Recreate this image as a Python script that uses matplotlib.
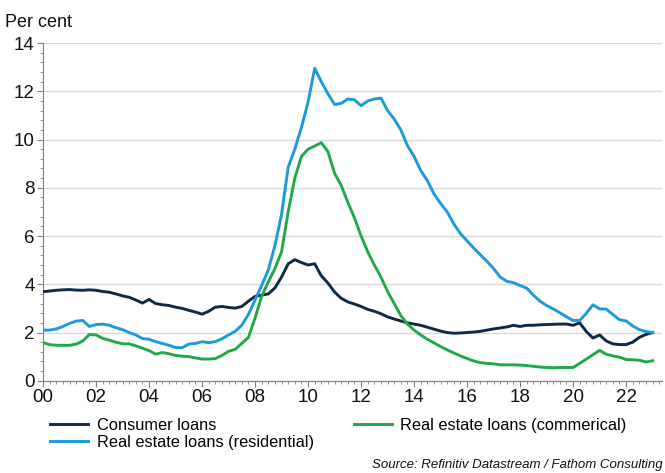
import numpy as np
import matplotlib
matplotlib.use("Agg")
import matplotlib.pyplot as plt
from matplotlib.ticker import MultipleLocator, FixedLocator

plt.rcParams['font.family'] = ['Liberation Sans', 'DejaVu Sans']

# Quarterly observations, Q1 2000 to Q1 2023
start_year = 2000
n_quarters = 93

consumer = [
    3.69, 3.72, 3.75, 3.77, 3.78, 3.76, 3.75, 3.77, 3.75, 3.70, 3.67, 3.60,
    3.52, 3.46, 3.35, 3.22, 3.37, 3.20, 3.15, 3.12, 3.05, 3.00, 2.92, 2.85,
    2.76, 2.88, 3.05, 3.08, 3.04, 3.01, 3.08, 3.30, 3.50, 3.55, 3.60, 3.85,
    4.30, 4.85, 5.02, 4.90, 4.80, 4.85, 4.35, 4.05, 3.68, 3.42, 3.27, 3.18,
    3.08, 2.96, 2.88, 2.78, 2.65, 2.56, 2.48, 2.40, 2.35, 2.30, 2.22, 2.14,
    2.06, 2.00, 1.97, 1.98, 2.00, 2.02, 2.05, 2.10, 2.15, 2.19, 2.23, 2.30,
    2.25, 2.30, 2.30, 2.32, 2.33, 2.34, 2.35, 2.35, 2.30, 2.40, 2.04, 1.77,
    1.90, 1.65, 1.53, 1.50, 1.50, 1.60, 1.80, 1.92, 2.00,
]

residential = [
    2.10, 2.10, 2.15, 2.25, 2.38, 2.47, 2.50, 2.25, 2.33, 2.35, 2.30, 2.20,
    2.12, 2.00, 1.90, 1.75, 1.72, 1.62, 1.55, 1.47, 1.38, 1.37, 1.52, 1.55,
    1.62, 1.58, 1.62, 1.74, 1.90, 2.05, 2.30, 2.75, 3.35, 3.95, 4.60, 5.60,
    6.90, 8.85, 9.60, 10.50, 11.55, 12.95, 12.40, 11.90, 11.45, 11.50, 11.68, 11.65,
    11.40, 11.60, 11.68, 11.72, 11.20, 10.85, 10.40, 9.75, 9.30, 8.72, 8.30, 7.75,
    7.35, 7.00, 6.50, 6.10, 5.80, 5.50, 5.22, 4.95, 4.65, 4.30, 4.12, 4.07,
    3.95, 3.84, 3.55, 3.30, 3.12, 2.98, 2.82, 2.65, 2.50, 2.50, 2.80, 3.15,
    2.98, 2.97, 2.75, 2.53, 2.48, 2.27, 2.12, 2.04, 2.00,
]

commercial = [
    1.58, 1.50, 1.47, 1.47, 1.47, 1.52, 1.65, 1.92, 1.90, 1.76, 1.68, 1.60,
    1.53, 1.53, 1.45, 1.35, 1.25, 1.10, 1.17, 1.12, 1.05, 1.02, 1.00, 0.95,
    0.90, 0.90, 0.92, 1.05, 1.22, 1.30, 1.55, 1.80, 2.60, 3.50, 4.10, 4.65,
    5.35, 7.00, 8.40, 9.30, 9.60, 9.73, 9.87, 9.50, 8.60, 8.10, 7.40, 6.75,
    6.00, 5.35, 4.80, 4.30, 3.70, 3.20, 2.70, 2.35, 2.10, 1.90, 1.72, 1.57,
    1.42, 1.28, 1.15, 1.03, 0.92, 0.82, 0.75, 0.72, 0.70, 0.66, 0.66, 0.66,
    0.65, 0.63, 0.60, 0.57, 0.55, 0.54, 0.55, 0.55, 0.55, 0.72, 0.90, 1.08,
    1.26, 1.10, 1.03, 0.98, 0.88, 0.87, 0.85, 0.78, 0.83,
]

series_names = [
    "Consumer loans",
    "Real estate loans (residential)",
    "Real estate loans (commerical)",
]
year_labels = ["00", "02", "04", "06", "08", "10", "12", "14", "16", "18", "20", "22"]

t = start_year + np.arange(n_quarters) / 4.0

navy = "#0d2b46"
sky = "#1d9ad9"
green = "#22a84a"

fig = plt.figure(figsize=(6.65, 4.73), dpi=100)
ax = fig.add_axes([0.0647, 0.195, 0.931, 0.714])

ln_c, = ax.plot(t, consumer, color=navy, lw=2.1, label=series_names[0], zorder=3)
ln_r, = ax.plot(t, residential, color=sky, lw=2.1, label=series_names[1], zorder=3)
ln_m, = ax.plot(t, commercial, color=green, lw=2.1, label=series_names[2], zorder=3)

ax.set_xlim(2000, 2023.36)
ax.set_ylim(0, 14)

ax.set_yticks(np.arange(0, 15, 2))
ax.yaxis.set_minor_locator(MultipleLocator(0.4))
ax.grid(axis="y", color="#d9d9d9", lw=1.0, zorder=0)

label_years = [2000 + 2 * k for k in range(len(year_labels))]
ax.xaxis.set_major_locator(FixedLocator(label_years))
ax.set_xticklabels(year_labels)
ax.xaxis.set_minor_locator(MultipleLocator(0.25))

for s in ["top", "right"]:
    ax.spines[s].set_visible(False)
for s in ["left", "bottom"]:
    ax.spines[s].set_color("#7f7f7f")
    ax.spines[s].set_linewidth(0.8)

ax.tick_params(axis="both", which="major", labelsize=13.5, colors="#7f7f7f",
               labelcolor="#111111", length=4, width=0.8, pad=2)
ax.tick_params(axis="both", which="minor", colors="#7f7f7f", length=2, width=0.6)

fig.text(0.008, 0.935, "Per cent", fontsize=13, color="#111111", ha="left", va="bottom")

# column-wise fill: consumer + residential in column 1, commercial in column 2
fig.legend(handles=[ln_c, ln_r, ln_m],
           labels=[series_names[0], series_names[1], series_names[2]],
           loc="upper left", bbox_to_anchor=(0.075, 0.116), ncol=2,
           frameon=False, fontsize=11.8, handlelength=2.35, handletextpad=0.5,
           columnspacing=2.45, labelspacing=0.12, borderaxespad=0,
           borderpad=0)

fig.text(0.997, 0.004, "Source: Refinitiv Datastream / Fathom Consulting",
         fontsize=9.5, style="italic", color="#111111", ha="right", va="bottom")

fig.savefig("out.png", dpi=100, facecolor="white")
